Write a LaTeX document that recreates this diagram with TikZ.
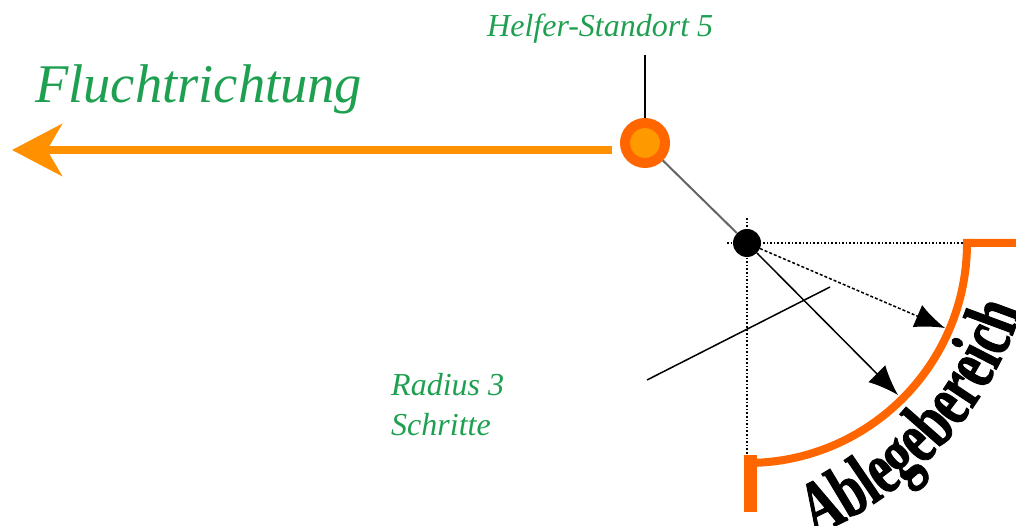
\documentclass[tikz,border=0pt]{standalone}
\usepackage{fontspec}
\setmainfont{Liberation Serif}
\newfontfamily\ablfont[FakeStretch=0.68,FakeBold=1.2]{Liberation Serif Bold}
\usetikzlibrary{arrows.meta,decorations.text}
\definecolor{fluchtorange}{RGB}{255,145,0}
\definecolor{ringorange}{RGB}{255,102,0}
\definecolor{innerorange}{RGB}{255,153,0}
\definecolor{labelgreen}{RGB}{30,160,80}
\definecolor{linegray}{RGB}{100,100,100}
\tikzset{
  greenlabel/.style={anchor=base west, inner sep=0pt, text=labelgreen, align=left},
  smalltext/.style={font=\itshape\fontsize{32}{40}\selectfont},
  thinline/.style={line width=1.5pt, black},
  guide/.style={line width=1.6pt, black, dotted},
  reach/.style={line width=1.5pt, black, -{Latex[length=30pt,width=24pt]}},
  bound/.style={line width=8pt, ringorange},
}
\begin{document}
\begin{tikzpicture}[x=1pt,y=1pt]
\useasboundingbox (0,0) rectangle (1016,525);
% labels
\node[greenlabel, font=\itshape\fontsize{54.5}{60}\selectfont] (flucht) at (35,422) {Fluchtrichtung};
\node[greenlabel, smalltext] (helferlabel) at (487,488) {Helfer-Standort 5};
\node[greenlabel, smalltext] (radiuslabel) at (391,90) {Radius 3\\Schritte};
% helper position
\node[circle, draw=ringorange, fill=innerorange, line width=10pt, minimum size=40pt, inner sep=0pt] (helfer) at (645,382) {};
\node[circle, fill=black, minimum size=28pt, inner sep=0pt] (dot) at (747,282) {};
% stem
\coordinate (stem) at (645,470);
\draw[line width=2.5pt, black] (stem) -- (helfer.north);
% escape arrow
\coordinate (fstart) at (612,375);
\coordinate (fend) at (12,375);
\draw[line width=8pt, fluchtorange, -{Stealth[length=50pt,width=52pt,inset=15pt]}] (fstart) -- (fend);
% gray connection
\draw[line width=2pt, linegray] (helfer) -- (dot);
% dotted guides
\coordinate (hl) at (727,282);
\coordinate (hr) at (967,282);
\coordinate (vt) at (747,307);
\coordinate (vb) at (747,68);
\draw[guide] (hl) -- (hr);
\draw[guide] (vt) -- (vb);
% boundary
\coordinate (bstart) at (1016,282);
\coordinate (bcorner) at (967,282);
\draw[bound] (bstart) -- (bcorner) arc[start angle=0, end angle=-90, radius=220];
\coordinate (bartop) at (750,70);
\coordinate (barbot) at (750,13);
\draw[line width=13pt, ringorange] (bartop) -- (barbot);
% arrows
\coordinate (tip1) at (945,197);
\coordinate (tip2) at (898,130);
\draw[reach, densely dashed] (dot) -- (tip1);
\draw[reach] (dot) -- (tip2);
% radius line
\coordinate (r1) at (647,145);
\coordinate (r2) at (830,238);
\draw[thinline] (r1) -- (r2);
% Ablegebereich
\path[decorate, decoration={text along path, text format delimiters={|}{|},
  text={|\ablfont\fontsize{76}{76}\selectfont|Ablegebereich}}]
  ([shift={(670,330)}]-67:370) arc[start angle=-67, end angle=-5, radius=370];
\end{tikzpicture}
\end{document}
